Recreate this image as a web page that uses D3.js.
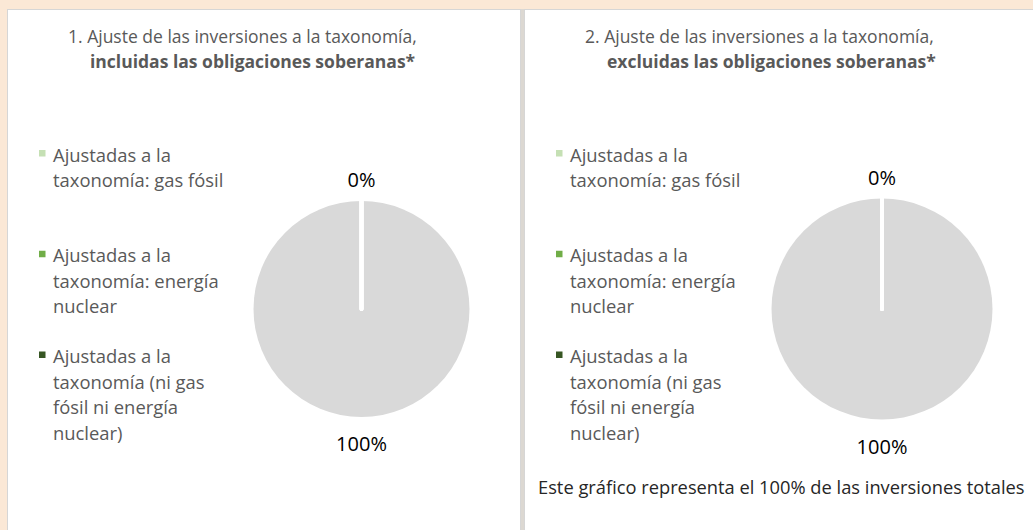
<!DOCTYPE html>
<html>
<head>
<meta charset="utf-8">
<script src="https://cdn.jsdelivr.net/npm/d3@7"></script>
<style>
  html, body { margin: 0; padding: 0; background: #fbe8d6; overflow: hidden; }
  svg { display: block; font-family: "Open Sans", sans-serif; }
</style>
</head>
<body>
<div id="chart"></div>
<script>
/*********************************
   DATA
 *********************************/

// Slice Categories (Legend Shows First Three)
const categories = [
  "Ajustadas a la taxonomía: gas fósil",
  "Ajustadas a la taxonomía: energía nuclear",
  "Ajustadas a la taxonomía (ni gas fósil ni energía nuclear)",
  "No ajustadas a la taxonomía"
];

// Legend Text As Wrapped In The Picture
const legendLines = [
  ["Ajustadas a la", "taxonomía: gas fósil"],
  ["Ajustadas a la", "taxonomía: energía", "nuclear"],
  ["Ajustadas a la", "taxonomía (ni gas", "fósil ni energía", "nuclear)"]
];

// Slice Values (%)
const valuesIncl = [0, 0, 0, 100];
const valuesExcl = [0, 0, 0, 100];

// Chart Titles
const titlesLine1 = ["1. Ajuste de las inversiones a la taxonomía,", "2. Ajuste de las inversiones a la taxonomía,"];
const titlesLine2 = ["incluidas las obligaciones soberanas*", "excluidas las obligaciones soberanas*"];

const footnote = "Este gráfico representa el 100% de las inversiones totales";

/*********************************
   DRAWING
 *********************************/

let w = 1033, h = 530;
let svg = d3.select("#chart").append("svg").attr("width", w).attr("height", h);

// Slice Colours
let color = d3.scaleOrdinal().domain(categories).range(["#c5e0b4", "#70ad47", "#375623", "#d9d9d9"]);

// Panel Backgrounds
svg.append("rect").attr("x", 0).attr("y", 0).attr("width", w).attr("height", h).attr("fill", "#fbe8d6");
svg.append("rect").attr("x", 520).attr("y", 9).attr("width", 5).attr("height", h).attr("fill", "#dcd8d2");
svg.append("rect").attr("x", 7.5).attr("y", 9.5).attr("width", 513).attr("height", h).attr("fill", "#fff").attr("stroke", "#d6d6d6");
svg.append("rect").attr("x", 524.5).attr("y", 9.5).attr("width", 520).attr("height", h).attr("fill", "#fff").attr("stroke", "#d6d6d6");

// Draw One Panel
function drawPanel(i, values, offX, cx, r) {
  let g = svg.append("g");

  // Title
  g.append("text").attr("x", offX + 68).attr("y", 43).attr("fill", "#595959").style("font-size", "17.5px").text(titlesLine1[i]);
  g.append("text").attr("x", offX + 90).attr("y", 68).attr("fill", "#595959").style("font-size", "17.5px").style("font-weight", "bold").text(titlesLine2[i]);

  // Legend
  let itemY = d3.scaleLinear().domain([0, legendLines.length - 1]).range([161.5, 363]);
  legendLines.forEach((lines, k) => {
    let y0 = itemY(k);
    g.append("rect").attr("x", offX + 39).attr("y", y0 - 11.5).attr("width", 6.5).attr("height", 6.5).attr("fill", color(categories[k]));
    lines.forEach((t, j) => {
      g.append("text").attr("x", offX + 53).attr("y", y0 + j * 25.5).attr("fill", "#595959").style("font-size", "18.4px").text(t);
    });
  });

  // Pie
  let cy = 309;
  let pie = d3.pie().sort(null).value((d) => d);
  let arcs = pie(values);
  let arc = d3.arc().innerRadius(0).outerRadius(r);
  let pg = g.append("g").attr("transform", "translate(" + cx + "," + cy + ")");
  pg.selectAll("path").data(arcs).enter().append("path")
    .attr("d", arc)
    .attr("fill", (d, k) => color(categories[k]));

  // White Slice Borders (Radial Edges)
  pg.selectAll("line").data(arcs).enter().append("line")
    .attr("x1", 0).attr("y1", 0)
    .attr("x2", (d) => (r + 2) * Math.sin(d.startAngle))
    .attr("y2", (d) => -(r + 2) * Math.cos(d.startAngle))
    .attr("stroke", "#fff").attr("stroke-width", 4).attr("stroke-linecap", "round");

  // Data Labels Outside End (One Per Position)
  let labelArc = d3.arc().innerRadius(r + 24).outerRadius(r + 24);
  let seen = {};
  let labels = arcs.filter((d) => {
    let key = labelArc.centroid(d).map(Math.round).join(",") + d.data;
    if (seen[key]) return false;
    seen[key] = true;
    return true;
  });
  pg.selectAll("text").data(labels).enter().append("text")
    .attr("transform", (d) => "translate(" + labelArc.centroid(d) + ")")
    .attr("text-anchor", "middle").attr("dy", "0.5em")
    .attr("fill", "#000").style("font-size", "20px")
    .text((d) => d.data + "%");
}

drawPanel(0, valuesIncl, 0, 361.5, 108);
drawPanel(1, valuesExcl, 517, 882, 110.5);

// Footnote
svg.append("text").attr("x", 538).attr("y", 494).attr("fill", "#262626").style("font-size", "18.3px").text(footnote);
</script>
</body>
</html>
